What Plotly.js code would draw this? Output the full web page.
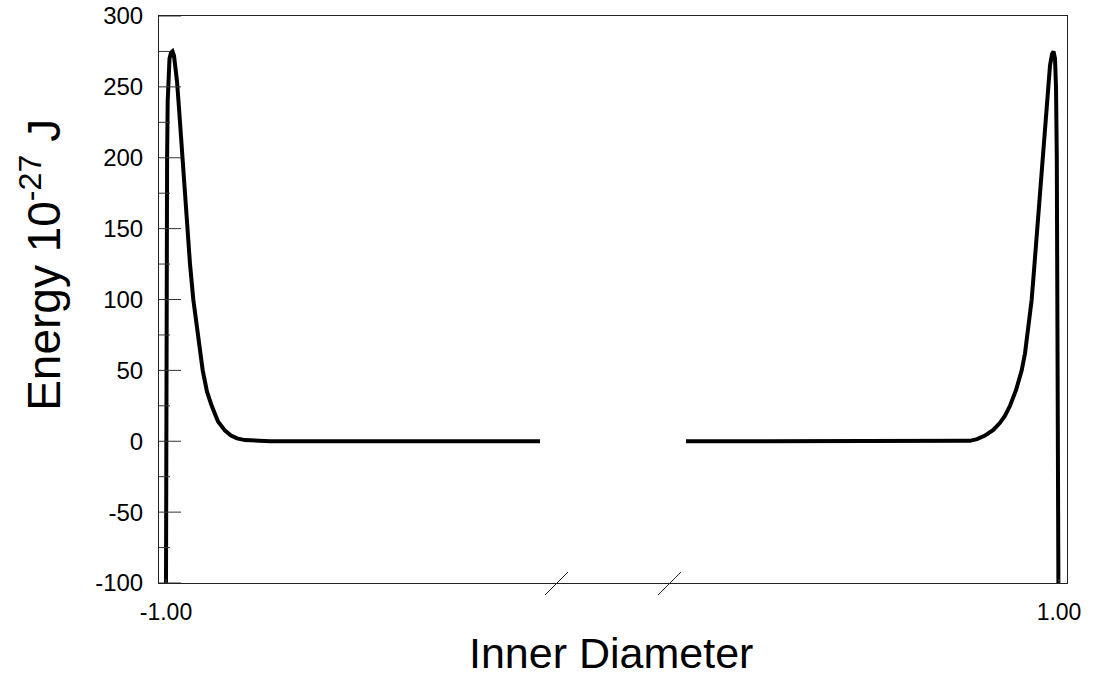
<!DOCTYPE html>
<html>
<head>
<meta charset="utf-8">
<script src="https://cdn.plot.ly/plotly-3.0.1.min.js"></script>
<style>
  html, body { margin: 0; padding: 0; background: #fff; }
  #chart { width: 1098px; height: 698px; }
</style>
</head>
<body>
<div id="chart"></div>
<script>
// Left branch (near the -1.00 wall)
const leftX = [-1.0000, -0.99955, -0.99866, -0.99754, -0.99619, -0.99440, -0.99216, -0.98880, -0.98544,
  -0.98208, -0.97872, -0.97536, -0.97088, -0.96349, -0.95745, -0.95230, -0.94625, -0.93886, -0.92945,
  -0.91780, -0.90817, -0.89765, -0.88354, -0.86786, -0.85442, -0.84099, -0.82307, -0.80067, -0.76708,
  -0.47592, -0.16237];
const leftE = [-100, 0, 120, 200, 240, 260, 270, 274, 275,
  272, 265, 254, 235, 200, 172, 150, 125, 100, 75,
  50, 35, 25, 14, 7.5, 4, 2, 0.8, 0.2, 0,
  0, 0];

// Right branch (near the 1.00 wall)
const rightX = [0.16461, 0.53191, 0.77828, 0.80067, 0.81635, 0.83427, 0.85286, 0.86786, 0.87906,
  0.89026, 0.90370, 0.91646, 0.92385, 0.93169, 0.93886, 0.94513, 0.95140, 0.95745, 0.96349,
  0.96865, 0.97424, 0.97984, 0.98432, 0.98768, 0.99104, 0.99328, 0.99507, 0.99642, 0.99754, 0.99866];
const rightE = [0, 0, 0, 0.3, 1.5, 4, 8, 13, 18,
  25, 36, 50, 62, 80, 100, 125, 150, 175, 200,
  225, 248, 265, 273, 275, 270, 250, 200, 100, 0, -100];

const xTickVals = [-1, 1];
const xTickText = ['-1.00', '1.00'];
const yTickVals = [-100, -50, 0, 50, 100, 150, 200, 250, 300];
const yTickText = ['-100', '-50', '0', '50', '100', '150', '200', '250', '300'];
const yMinorVals = [-75, -25, 25, 75, 125, 175, 225, 275];
const breakX = [-0.1254, 0.1277];   // axis-break marks on the x axis

const xRange = [-1.01568, 1.01792];
const yRange = [-100, 300];

const FONT = 'Liberation Sans, Arial, Helvetica, sans-serif';
const PLOT_W = 1098 - 159 - 31;

const traces = [
  { x: leftX, y: leftE, type: 'scatter', mode: 'lines',
    line: { color: '#000', width: 4 }, hoverinfo: 'skip', showlegend: false },
  { x: rightX, y: rightE, type: 'scatter', mode: 'lines',
    line: { color: '#000', width: 4 }, hoverinfo: 'skip', showlegend: false }
];

const toPaper = v => (v - xRange[0]) / (xRange[1] - xRange[0]);
const shapes = breakX.map(b => {
  const dx = 0.0258;
  return { type: 'line', xref: 'paper', yref: 'paper',
    x0: toPaper(b - dx), y0: -0.0212, x1: toPaper(b + dx), y1: 0.0194,
    line: { color: '#222', width: 1 } };
});
// inward y-axis tick marks (major 22 px, minor 11 px)
yTickVals.forEach(v => shapes.push({ type: 'line', xref: 'paper', yref: 'y',
  x0: 0, x1: 22 / PLOT_W, y0: v, y1: v, line: { color: '#333', width: 1 } }));
yMinorVals.forEach(v => shapes.push({ type: 'line', xref: 'paper', yref: 'y',
  x0: 0, x1: 11 / PLOT_W, y0: v, y1: v, line: { color: '#333', width: 1 } }));

const layout = {
  width: 1098, height: 698,
  margin: { l: 159, r: 31, t: 16, b: 115 },
  paper_bgcolor: '#fff', plot_bgcolor: '#fff',
  font: { family: FONT, color: '#000' },
  showlegend: false,
  xaxis: {
    range: xRange, showgrid: false, zeroline: false,
    showline: true, mirror: true, linecolor: '#222', linewidth: 1,
    tickmode: 'array', tickvals: xTickVals, ticktext: xTickText,
    ticks: 'inside', ticklen: 4, tickcolor: '#222', tickwidth: 2,
    tickfont: { family: FONT, size: 23, color: '#000' },
    ticklabelstandoff: 8
  },
  yaxis: {
    range: yRange, showgrid: false, zeroline: false,
    showline: true, mirror: true, linecolor: '#222', linewidth: 1,
    tickmode: 'array', tickvals: yTickVals, ticktext: yTickText,
    ticks: '',
    tickfont: { family: FONT, size: 24, color: '#000' },
    ticklabelstandoff: 10
  },
  shapes: shapes,
  annotations: [
    { text: 'Energy 10<sup>-27</sup> J', xref: 'paper', yref: 'paper',
      x: -0.130, y: 0.561, xanchor: 'center', yanchor: 'middle', textangle: -90,
      showarrow: false, font: { family: FONT, size: 46, color: '#000' } },
    { text: 'Inner Diameter', xref: 'paper', yref: 'paper',
      x: 0.4978, y: -0.124, xanchor: 'center', yanchor: 'middle',
      showarrow: false, font: { family: FONT, size: 43, color: '#000' } }
  ]
};

Plotly.newPlot('chart', traces, layout, { staticPlot: true, displayModeBar: false });
</script>
</body>
</html>
